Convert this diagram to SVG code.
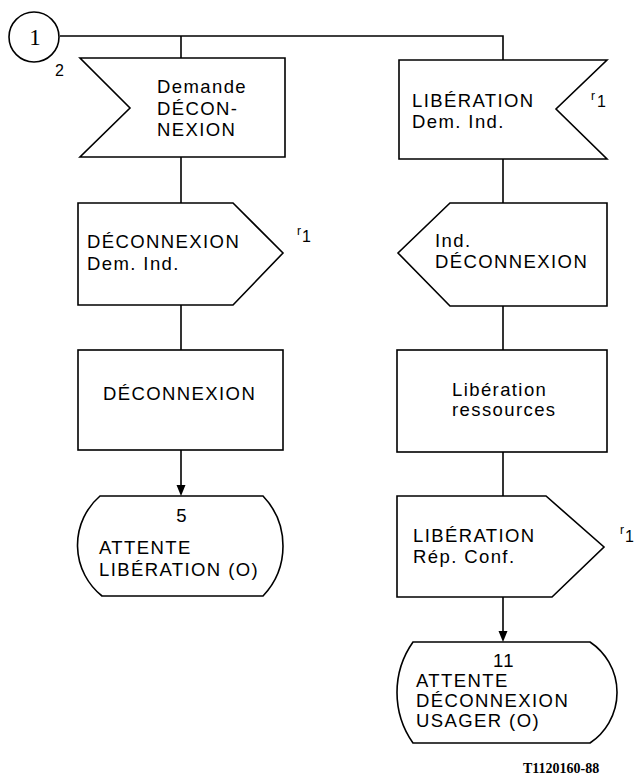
<svg xmlns="http://www.w3.org/2000/svg" width="640" height="780" viewBox="0 0 640 780">
  <style>
    .shape { fill: #ffffff; stroke: #000000; stroke-width: 1.6; stroke-linejoin: miter; }
    .wire { fill: none; stroke: #000000; stroke-width: 1.6; }
    .head { fill: #000000; }
    .lbl { font-family: "Liberation Sans", Arial, sans-serif; font-size: 18.5px; letter-spacing: 1.4px; fill: #000000; }
    .mid { text-anchor: middle; }
    .num { font-family: "Liberation Sans", Arial, sans-serif; font-size: 16px; fill: #000000; }
    .sup { font-family: "Liberation Sans", Arial, sans-serif; font-size: 12px; fill: #000000; }
    .one { font-family: "Liberation Sans", Arial, sans-serif; font-size: 16px; fill: #000000; }
    .serif { font-family: "Liberation Serif", "Times New Roman", serif; fill: #000000; }
  </style>
  <rect width="640" height="780" fill="#ffffff"/>

  <!-- connectors: flow lines, arrowheads drawn where a line enters a state -->
  <g id="connectors">
    <path class="wire" d="M60,36 H503 V60"/>
    <path class="wire" d="M181,36 V58"/>
    <path class="wire" d="M181,157 V203"/>
    <path class="wire" d="M181,305 V350"/>
    <path class="wire" d="M181,450 V486"/>
    <path class="head" d="M176.5,485 L185.5,485 L181,496 Z"/>
    <path class="wire" d="M503,159 V203"/>
    <path class="wire" d="M503,306 V350"/>
    <path class="wire" d="M503,452 V496"/>
    <path class="wire" d="M503,597 V632"/>
    <path class="head" d="M498.5,631 L507.5,631 L503,642 Z"/>
  </g>

  <!-- connector 1 -->
  <g id="conn-1">
    <circle class="shape" cx="34" cy="37" r="25"/>
    <text class="serif" x="35" y="45" font-size="23" text-anchor="middle">1</text>
    <text class="num" x="55" y="76">2</text>
  </g>

  <!-- left column -->
  <g id="in-demande-deconnexion">
    <path class="shape" d="M80,58 H285 V157 H80 L130,108 Z"/>
    <text class="lbl" x="157" y="93">Demande</text>
    <text class="lbl" x="157" y="115">DÉCON-</text>
    <text class="lbl" x="157" y="136">NEXION</text>
  </g>

  <g id="out-deconnexion-dem-ind">
    <path class="shape" d="M78,203 H233 L283,253 L233,305 H78 Z"/>
    <text class="lbl" x="87" y="248">DÉCONNEXION</text>
    <text class="lbl" x="87" y="270">Dem. Ind.</text>
    <text class="sup" x="297" y="235">r</text>
    <text class="one" x="302" y="242">1</text>
  </g>

  <g id="task-deconnexion">
    <rect class="shape" x="78" y="350" width="205" height="100"/>
    <text class="lbl" x="103" y="400">DÉCONNEXION</text>
  </g>

  <g id="state-5">
    <path class="shape" d="M100,496 H263 A72.5,72.5 0 0 1 263,596 H102 A65,65 0 0 1 100,496 Z"/>
    <text class="lbl mid" x="182" y="522">5</text>
    <text class="lbl" x="99" y="554">ATTENTE</text>
    <text class="lbl" x="99" y="576">LIBÉRATION (O)</text>
  </g>

  <!-- right column -->
  <g id="in-liberation-dem-ind">
    <path class="shape" d="M399,60 H607 L556,109 L607,159 H399 Z"/>
    <text class="lbl" x="412" y="107">LIBÉRATION</text>
    <text class="lbl" x="412" y="128">Dem. Ind.</text>
    <text class="sup" x="591" y="100">r</text>
    <text class="one" x="597" y="107">1</text>
  </g>

  <g id="out-ind-deconnexion">
    <path class="shape" d="M450,203 H607 V306 H450 L398,253 Z"/>
    <text class="lbl" x="435" y="247">Ind.</text>
    <text class="lbl" x="435" y="268">DÉCONNEXION</text>
  </g>

  <g id="task-liberation-ressources">
    <rect class="shape" x="397" y="350" width="210" height="102"/>
    <text class="lbl" x="452" y="396">Libération</text>
    <text class="lbl" x="452" y="416">ressources</text>
  </g>

  <g id="out-liberation-rep-conf">
    <path class="shape" d="M397,496 H546 L604,547 L552,597 H397 Z"/>
    <text class="lbl" x="413" y="542">LIBÉRATION</text>
    <text class="lbl" x="413" y="563">Rép. Conf.</text>
    <text class="sup" x="620" y="534">r</text>
    <text class="one" x="625" y="542">1</text>
  </g>

  <g id="state-11">
    <path class="shape" d="M413,642 H590 A60.7,60.7 0 0 1 590,743 H413 A87.7,87.7 0 0 1 413,642 Z"/>
    <text class="lbl mid" x="504" y="667">11</text>
    <text class="lbl" x="416" y="687">ATTENTE</text>
    <text class="lbl" x="416" y="707">DÉCONNEXION</text>
    <text class="lbl" x="416" y="727">USAGER (O)</text>
  </g>

  <text class="serif" x="523" y="773" font-size="14" font-weight="bold">T1120160-88</text>
</svg>
